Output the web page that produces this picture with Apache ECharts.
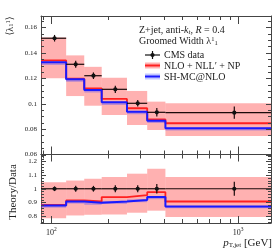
<!DOCTYPE html>
<html><head><meta charset="utf-8">
<script src="https://cdn.jsdelivr.net/npm/echarts@6/dist/echarts.min.js"></script>
<style>html,body{margin:0;padding:0;background:#fff}#c{width:280px;height:250px}</style>
</head><body><div id="c"></div>
<script>
// ---- data ----
const binEdges = [88, 120, 150, 186, 254, 326, 408, 1500];
const binCenters = [104, 135, 168, 220, 290, 367, 954];
const cmsData = [0.1515, 0.131, 0.122, 0.1113, 0.1003, 0.0932, 0.0929];
const cmsErr  = [0.0026, 0.0028, 0.0026, 0.0029, 0.0026, 0.0033, 0.0048];
const nloVal = [0.134, 0.1197, 0.112, 0.1037, 0.0964, 0.0877, 0.0846];
const nloLo  = [0.120, 0.106, 0.0984, 0.091, 0.0832, 0.0793, 0.0746];
const nloHi  = [0.152, 0.138, 0.129, 0.1205, 0.110, 0.1016, 0.1003];
const shVal  = [0.1326, 0.1192, 0.1108, 0.1011, 0.0937, 0.0866, 0.0806];
const shLo   = [0.1305, 0.1172, 0.1088, 0.0990, 0.0917, 0.0848, 0.0788];
const shHi   = [0.1330, 0.1196, 0.1112, 0.1015, 0.0941, 0.0870, 0.0810];
const ratioData = [1, 1, 1, 1, 1, 1, 1];
const ratioErr  = [0.017, 0.021, 0.021, 0.026, 0.026, 0.035, 0.052];
const ratioNlo   = [0.883, 0.915, 0.907, 0.939, 0.953, 0.975, 0.907];
const ratioNloLo = [0.785, 0.805, 0.810, 0.812, 0.825, 0.840, 0.793];
const ratioNloHi = [1.048, 1.060, 1.073, 1.085, 1.110, 1.146, 1.085];
const ratioSh    = [0.878, 0.907, 0.898, 0.907, 0.918, 0.939, 0.871];
const ratioShLo  = [0.862, 0.892, 0.883, 0.890, 0.902, 0.924, 0.857];
const ratioShHi  = [0.882, 0.911, 0.902, 0.911, 0.922, 0.943, 0.875];
const xMajorTicks = [100, 1000];
const xMinorTicks = [90, 200, 300, 400, 500, 600, 700, 800, 900];
const topYTicks = [0.06, 0.08, 0.1, 0.12, 0.14, 0.16];
const topYLabels = ['0.06', '0.08', '0.1', '0.12', '0.14', '0.16'];
const ratioYTicks = [0.8, 0.9, 1, 1.1, 1.2];
const ratioYLabels = ['0.8', '0.9', '1', '1.1', '1.2'];

// ---- helpers ----
const SERIF = "'Liberation Serif','DejaVu Serif',serif";
const FRAME = '#444';
function stepData(vals){
  const d = vals.map((v,i)=>[binEdges[i], v]);
  d.push([binEdges[binEdges.length-1], vals[vals.length-1]]);
  return d;
}
function bandSeries(xi, yi, lo, hi, color, z){
  return {type:'custom', xAxisIndex:xi, yAxisIndex:yi, z:z, silent:true,
    data: lo.map((l,i)=>[binEdges[i], binEdges[i+1], l, hi[i]]),
    encode:{x:[0,1], y:[2,3]},
    renderItem:(p,api)=>{
      const a = api.coord([api.value(0), api.value(3)]);
      const b = api.coord([api.value(1), api.value(2)]);
      return {type:'rect', shape:{x:a[0], y:a[1], width:b[0]-a[0], height:b[1]-a[1]}, style:{fill:color}};
    }};
}
function lineSeries(xi, yi, vals, color, w, z){
  return {type:'line', xAxisIndex:xi, yAxisIndex:yi, step:'end', data:stepData(vals), symbol:'none', z:z,
    lineStyle:{color:color, width:w}, silent:true, animation:false};
}
function pointSeries(xi, yi, vals, errs, z){
  return {type:'custom', xAxisIndex:xi, yAxisIndex:yi, z:z, silent:true,
    data: vals.map((v,i)=>[binCenters[i], v, binEdges[i], binEdges[i+1], errs[i]]),
    encode:{x:0, y:1},
    renderItem:(p,api)=>{
      const x=api.value(0), y=api.value(1), e=api.value(4);
      const c = api.coord([x,y]);
      const l = api.coord([api.value(2), y]);
      const r = api.coord([api.value(3), y]);
      const t = api.coord([x, y+e]);
      const b = api.coord([x, y-e]);
      const st = {stroke:'#1a0a0a', lineWidth:1.2};
      return {type:'group', children:[
        {type:'line', shape:{x1:l[0], y1:c[1], x2:r[0], y2:c[1]}, style:st},
        {type:'line', shape:{x1:c[0], y1:t[1], x2:c[0], y2:b[1]}, style:st},
        {type:'circle', shape:{cx:c[0], cy:c[1], r:2.1}, style:{fill:'#111'}}
      ]};
    }};
}
function tickSeries(xi, yi, yMid, xMid, yMajor, yLabels, yMinor, xLenMaj, xLenMin){
  const data = [];
  xMajorTicks.forEach(v=>data.push([v, yMid, 0, xLenMaj, -1]));
  xMinorTicks.forEach(v=>data.push([v, yMid, 0, xLenMin, -1]));
  yMajor.forEach((v,i)=>data.push([xMid, v, 1, 5, i]));
  yMinor.forEach(v=>data.push([xMid, v, 1, 3, -1]));
  return {type:'custom', xAxisIndex:xi, yAxisIndex:yi, z:20, silent:true, data:data,
    encode:{x:0, y:1},
    renderItem:(p,api)=>{
      const cs = p.coordSys; const kind = api.value(2); const len = api.value(3); const li = api.value(4);
      const pt = api.coord([api.value(0), api.value(1)]);
      const st = {stroke:FRAME, lineWidth:1};
      if (kind === 0){
        const x = Math.round(pt[0]) + 0.5;
        return {type:'group', children:[
          {type:'line', shape:{x1:x, y1:cs.y, x2:x, y2:cs.y+len}, style:st},
          {type:'line', shape:{x1:x, y1:cs.y+cs.height, x2:x, y2:cs.y+cs.height-len}, style:st}]};
      } else {
        const y = Math.round(pt[1]) + 0.5;
        const ch = [
          {type:'line', shape:{x1:cs.x, y1:y, x2:cs.x+len, y2:y}, style:st},
          {type:'line', shape:{x1:cs.x+cs.width, y1:y, x2:cs.x+cs.width-len, y2:y}, style:st}];
        if (li >= 0) ch.push({type:'text', x:cs.x-4, y:pt[1], style:{text:yLabels[li], textAlign:'right', textVerticalAlign:'middle', fontFamily:SERIF, fontSize:7, fill:'#222'}});
        return {type:'group', children:ch};
      }
    }};
}
const topMinor = [], ratioMinor = [];
for (let k=0; k<=21; k++){ const v = +(0.06 + k*0.005).toFixed(4); if (Math.abs(v/0.02 - Math.round(v/0.02))>1e-6) topMinor.push(v); }
for (let k=0; k<=25; k++){ const v = +(0.76 + k*0.02).toFixed(3); if (v<1.25 && Math.abs(v*10 - Math.round(v*10))>1e-6) ratioMinor.push(v); }

const axLine = {show:true, lineStyle:{color:FRAME, width:1}};
function xAx(grid, pos, labels){
  return {type:'log', logBase:10, gridIndex:grid, position:pos, min:88, max:1500,
    axisLine:axLine, axisTick:{show:false}, splitLine:{show:false}, minorTick:{show:false},
    axisLabel: labels ? {show:true, margin:4, color:'#222', fontFamily:SERIF, fontSize:8,
      formatter:(v)=>{const e=Math.log10(v); if(Math.abs(e-Math.round(e))<1e-6 && (Math.round(e)===2||Math.round(e)===3)) return '{b|10}{s|'+Math.round(e)+'}'; return '';},
      rich:{b:{fontFamily:SERIF, fontSize:8, color:'#222'}, s:{fontFamily:SERIF, fontSize:5.5, color:'#222', verticalAlign:'top', padding:[0,0,5,0]}}} : {show:false}};
}
function yAx(grid, pos, min, max, interval){
  return {type:'value', gridIndex:grid, position:pos, min:min, max:max, interval:interval,
    axisLine:axLine, axisTick:{show:false}, splitLine:{show:false}, axisLabel:{show:false}};
}

const chart = echarts.init(document.getElementById('c'), null, {renderer:'canvas'});
chart.setOption({
  animation:false,
  backgroundColor:'#fff',
  grid:[{left:41, right:9, top:16, height:138.5}, {left:41, right:9, top:154.5, height:68.5}],
  xAxis:[xAx(0,'bottom',false), xAx(0,'top',false), xAx(1,'bottom',true), xAx(1,'top',false)],
  yAxis:[yAx(0,'left',0.06,0.169,0.02), yAx(0,'right',0.06,0.169,0.02),
         yAx(1,'left',0.75,1.25,0.05), yAx(1,'right',0.75,1.25,0.05)],
  series:[
    bandSeries(0,0,nloLo,nloHi,'rgba(255,60,60,0.4)',1),
    bandSeries(0,0,shLo,shHi,'rgba(60,60,255,0.35)',2),
    lineSeries(0,0,nloVal,'#ff2020',1.8,3),
    lineSeries(0,0,shVal,'#1a1aff',2,4),
    pointSeries(0,0,cmsData,cmsErr,6),
    tickSeries(0,0,0.1,200,topYTicks,topYLabels,topMinor,8,4),
    bandSeries(2,2,ratioNloLo,ratioNloHi,'rgba(255,60,60,0.4)',1),
    bandSeries(2,2,ratioShLo,ratioShHi,'rgba(60,60,255,0.35)',2),
    lineSeries(2,2,ratioNlo,'#ff2020',1.8,3),
    lineSeries(2,2,ratioSh,'#1a1aff',2,4),
    pointSeries(2,2,ratioData,ratioErr,6),
    tickSeries(2,2,1,200,ratioYTicks,ratioYLabels,ratioMinor,7,4)
  ],
  graphic:[
    {type:'text', x:10, y:26, rotation:Math.PI/2, style:{text:'⟨λ{sub|1}{sup|1}⟩', textAlign:'center', textVerticalAlign:'middle', fontFamily:SERIF, fontSize:10, fill:'#222',
      rich:{sub:{fontSize:6.5, fontFamily:SERIF, verticalAlign:'bottom', padding:[3,0,0,0]}, sup:{fontSize:6.5, fontFamily:SERIF, verticalAlign:'top', padding:[0,0,3,0]}}}},
    {type:'text', x:13, y:192, rotation:Math.PI/2, style:{text:'Theory/Data', textAlign:'center', textVerticalAlign:'middle', fontFamily:SERIF, fontSize:11, fill:'#222'}},
    {type:'text', x:139, y:30, style:{text:'Z+jet, anti-{i|k}{sub|t}, {i|R} = 0.4', textVerticalAlign:'middle', fontFamily:SERIF, fontSize:10, fill:'#222',
      rich:{i:{fontStyle:'italic', fontFamily:SERIF, fontSize:10}, sub:{fontStyle:'italic', fontFamily:SERIF, fontSize:7, verticalAlign:'bottom', padding:[4,0,0,0]}}}},
    {type:'text', x:139, y:41, style:{text:'Groomed Width λ{sup|1}{sub|1}', textVerticalAlign:'middle', fontFamily:SERIF, fontSize:10, fill:'#222',
      rich:{sup:{fontFamily:SERIF, fontSize:6.5, verticalAlign:'top', padding:[0,0,4,0]}, sub:{fontFamily:SERIF, fontSize:6.5, verticalAlign:'bottom', padding:[4,0,0,0]}}}},
    // legend
    {type:'line', shape:{x1:145, y1:55, x2:160, y2:55}, style:{stroke:'#111', lineWidth:1.2}},
    {type:'line', shape:{x1:152.5, y1:51, x2:152.5, y2:59}, style:{stroke:'#111', lineWidth:1.2}},
    {type:'circle', shape:{cx:152.5, cy:55, r:2.1}, style:{fill:'#111'}},
    {type:'text', x:164, y:55, style:{text:'CMS data', textVerticalAlign:'middle', fontFamily:SERIF, fontSize:10, fill:'#222'}},
    {type:'rect', shape:{x:145, y:62.5, width:15, height:6}, style:{fill:'rgba(255,60,60,0.4)'}},
    {type:'line', shape:{x1:145, y1:65.5, x2:160, y2:65.5}, style:{stroke:'#ff2020', lineWidth:2}},
    {type:'text', x:164, y:66, style:{text:'NLO + NLL′ + NP', textVerticalAlign:'middle', fontFamily:SERIF, fontSize:10, fill:'#222'}},
    {type:'rect', shape:{x:145, y:73.5, width:15, height:6}, style:{fill:'rgba(120,130,255,0.45)'}},
    {type:'line', shape:{x1:145, y1:76.5, x2:160, y2:76.5}, style:{stroke:'#1a1aff', lineWidth:2}},
    {type:'text', x:164, y:77, style:{text:'SH-MC@NLO', textVerticalAlign:'middle', fontFamily:SERIF, fontSize:10, fill:'#222'}},
    {type:'text', x:272, y:243, style:{text:'{i|p}{sub|T,jet} [GeV]', textAlign:'right', textVerticalAlign:'middle', fontFamily:SERIF, fontSize:11, fill:'#222',
      rich:{i:{fontStyle:'italic', fontFamily:SERIF, fontSize:11}, sub:{fontFamily:SERIF, fontSize:7, verticalAlign:'bottom', padding:[5,0,0,0]}}}}
  ]
});
</script></body></html>
